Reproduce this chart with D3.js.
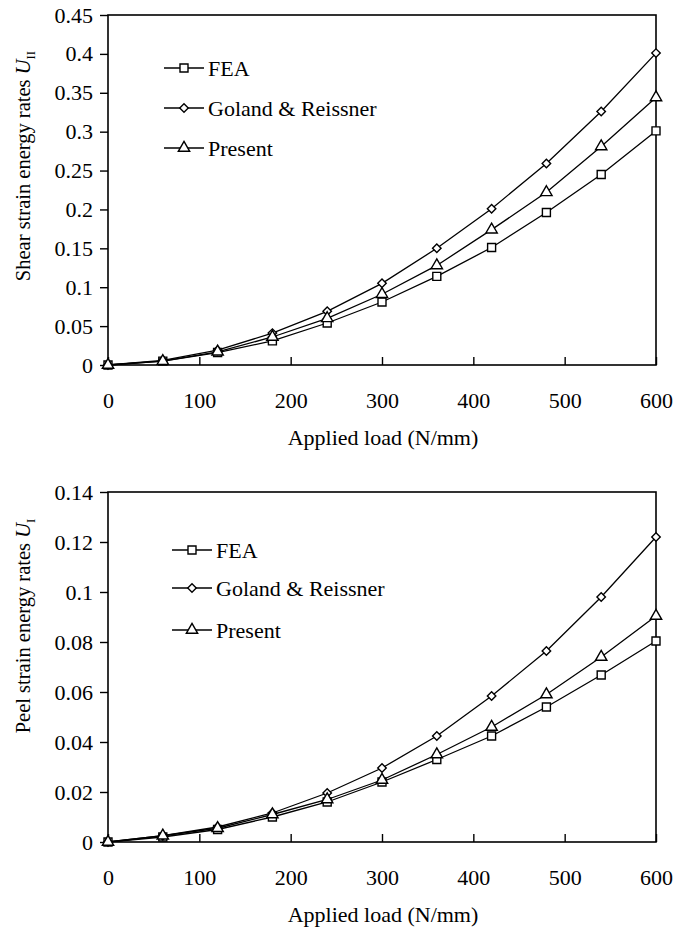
<!DOCTYPE html>
<html>
<head>
  <meta charset="utf-8">
  <title>Strain energy rates</title>
  <style>
    body { margin: 0; background: #fff; }
  </style>
</head>
<body>
<div id="chart"></div>
<script src="https://cdn.jsdelivr.net/npm/d3@7"></script>
<script>
// applied load (N/mm)
var loads = [0, 60, 120, 180, 240, 300, 360, 420, 480, 540, 600];
var loadTicks = [0, 100, 200, 300, 400, 500, 600];

// shear strain energy rates U_II
var shearFEA     = [0, 0.005, 0.016, 0.031, 0.054, 0.081, 0.114, 0.151, 0.196, 0.245, 0.301];
var shearGoland  = [0, 0.006, 0.019, 0.041, 0.069, 0.105, 0.150, 0.201, 0.259, 0.326, 0.401];
var shearPresent = [0, 0.005, 0.017, 0.036, 0.060, 0.091, 0.128, 0.174, 0.222, 0.281, 0.344];
var shearTicks   = [0, 0.05, 0.1, 0.15, 0.2, 0.25, 0.3, 0.35, 0.4, 0.45];

// peel strain energy rates U_I
var peelFEA     = [0, 0.002, 0.005, 0.010, 0.016, 0.024, 0.033, 0.0424, 0.054, 0.0668, 0.0804];
var peelGoland  = [0, 0.0025, 0.006, 0.0116, 0.0196, 0.0296, 0.0424, 0.0584, 0.0764, 0.098, 0.122];
var peelPresent = [0, 0.0025, 0.0055, 0.011, 0.017, 0.0248, 0.035, 0.046, 0.059, 0.074, 0.0904];
var peelTicks   = [0, 0.02, 0.04, 0.06, 0.08, 0.1, 0.12, 0.14];

var seriesNames = ['FEA', 'Goland & Reissner', 'Present'];
var symbols = [d3.symbolSquare, d3.symbolSquare, d3.symbolTriangle];
var symSizes = [64, 36, 56];
var symRotate = [0, 45, 0];

var FONT = '"Liberation Serif", "Times New Roman", "DejaVu Serif", serif';

var svg = d3.select('#chart').append('svg')
    .attr('width', 675)
    .attr('height', 932);

svg.append('rect').attr('width', 675).attr('height', 932).attr('fill', '#fff');

function marker(sel, k) {
    return sel
        .attr('d', d3.symbol().type(symbols[k]).size(symSizes[k]))
        .attr('fill', '#fff')
        .attr('stroke', '#000')
        .attr('stroke-width', 1.4);
}

function drawPanel(cfg) {
    var x = d3.scaleLinear().domain([0, 600]).range([cfg.left, cfg.right]);
    var y = d3.scaleLinear().domain([0, cfg.yMax]).range([cfg.bottom, cfg.top]);
    var g = svg.append('g');

    // frame
    g.append('rect')
        .attr('x', cfg.left).attr('y', cfg.top)
        .attr('width', cfg.right - cfg.left)
        .attr('height', cfg.bottom - cfg.top)
        .attr('fill', 'none').attr('stroke', '#000').attr('stroke-width', 1.6);

    var xAxis = g.append('g')
        .attr('transform', 'translate(0,' + cfg.bottom + ')')
        .call(d3.axisBottom(x).tickValues(loadTicks).tickSize(-8).tickPadding(27).tickFormat(d3.format('d')));
    var yAxis = g.append('g')
        .attr('transform', 'translate(' + cfg.left + ',0)')
        .call(d3.axisLeft(y).tickValues(cfg.ticks).tickSize(8).tickPadding(7)
            .tickFormat(function(d) { return String(+d.toFixed(2)); }));

    [xAxis, yAxis].forEach(function(a) {
        a.attr('font-family', null);
        a.select('.domain').remove();
        a.selectAll('line').attr('stroke', '#000').attr('stroke-width', 1.4);
        a.selectAll('text')
            .style('font-family', FONT)
            .style('font-size', '22px')
            .attr('fill', '#000');
    });

    // axis titles
    g.append('text')
        .attr('x', 383).attr('y', cfg.bottom + 80)
        .attr('text-anchor', 'middle')
        .style('font-family', FONT)
        .style('font-size', '22px')
        .text('Applied load (N/mm)');

    var yt = g.append('text')
        .attr('transform', 'translate(30,' + cfg.yLabelMid + ') rotate(-90)')
        .attr('text-anchor', 'middle')
        .style('font-family', FONT)
        .style('font-size', '20.5px');
    yt.append('tspan').text(cfg.yLabel + ' ');
    yt.append('tspan').style('font-style', 'italic').text('U');
    yt.append('tspan').attr('dy', 5).style('font-size', '13px').text(cfg.sub);

    var line = d3.line()
        .x(function(d, i) { return x(loads[i]); })
        .y(function(d) { return y(d); });

    cfg.series.forEach(function(vals, k) {
        g.append('path')
            .datum(vals)
            .attr('d', line)
            .attr('fill', 'none')
            .attr('stroke', '#000')
            .attr('stroke-width', 1.3);
        g.selectAll('.m' + k)
            .data(vals)
            .enter().append('path')
            .attr('class', 'm' + k)
            .attr('transform', function(d, i) {
                return 'translate(' + x(loads[i]) + ',' + y(d) + ') rotate(' + symRotate[k] + ')';
            })
            .call(marker, k);
    });

    // legend
    seriesNames.forEach(function(name, k) {
        var ly = cfg.legendY[k];
        var lx = cfg.legendX;
        g.append('line')
            .attr('x1', lx).attr('x2', lx + 40)
            .attr('y1', ly).attr('y2', ly)
            .attr('stroke', '#000').attr('stroke-width', 1.3);
        g.append('path')
            .attr('transform', 'translate(' + (lx + 20) + ',' + ly + ') rotate(' + symRotate[k] + ')')
            .call(marker, k);
        g.append('text')
            .attr('x', lx + 44).attr('y', ly)
            .attr('dy', '0.35em')
            .style('font-family', FONT)
            .style('font-size', '22px')
            .text(name);
    });
}

drawPanel({
    left: 108, right: 656, top: 15, bottom: 365,
    yMax: 0.45, ticks: shearTicks,
    series: [shearFEA, shearGoland, shearPresent],
    yLabel: 'Shear strain energy rates', sub: 'II', yLabelMid: 166,
    legendX: 164, legendY: [68, 108, 148]
});

drawPanel({
    left: 108, right: 656, top: 492, bottom: 842,
    yMax: 0.14, ticks: peelTicks,
    series: [peelFEA, peelGoland, peelPresent],
    yLabel: 'Peel strain energy rates', sub: 'I', yLabelMid: 626,
    legendX: 172, legendY: [550, 588, 630]
});
</script>
</body>
</html>
